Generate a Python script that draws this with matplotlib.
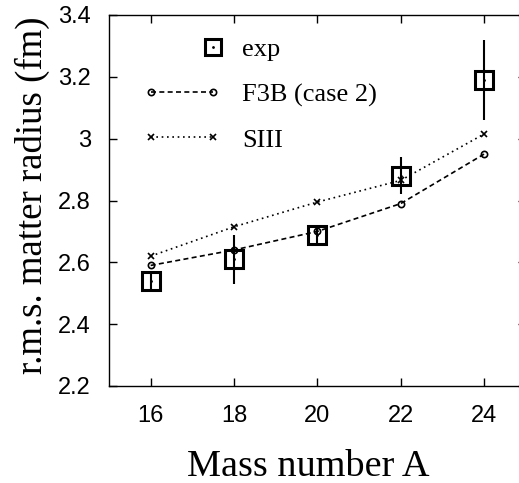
import matplotlib
matplotlib.use("Agg")
import matplotlib.pyplot as plt
from matplotlib.lines import Line2D
from matplotlib.legend_handler import HandlerLine2D

A = [16, 18, 20, 22, 24]
exp_r = [2.54, 2.61, 2.69, 2.88, 3.19]
exp_err = [0.03, 0.08, 0.03, 0.06, 0.13]
f3b = [2.59, 2.64, 2.70, 2.79, 2.95]
siii = [2.62, 2.715, 2.795, 2.865, 3.015]
xticks = [16, 18, 20, 22, 24]
yticks = [2.2, 2.4, 2.6, 2.8, 3.0, 3.2, 3.4]
ytick_labels = ["2.2", "2.4", "2.6", "2.8", "3", "3.2", "3.4"]


class HandlerRightMarker(HandlerLine2D):
    def create_artists(self, legend, orig_handle, xdescent, ydescent,
                       width, height, fontsize, trans):
        x = -xdescent + width - 3
        y = (height - ydescent) / 2
        line = Line2D([x], [y], linestyle='none')
        self.update_prop(line, orig_handle, legend)
        line.set_linestyle('none')
        line.set_transform(trans)
        dot = Line2D([x], [y], linestyle='none', marker='.', ms=2, color='black')
        dot.set_transform(trans)
        return [line, dot]


W, H = 519, 483
fig = plt.figure(figsize=(W/100, H/100), dpi=100)
left, right, top, bottom = 109, 109 + 10*41.67, 15, 386
ax = fig.add_axes([left/W, 1-bottom/H, (right-left)/W, (bottom-top)/H])

dash_f3b = (0, (3, 2))
dot_siii = (0, (1, 2.2))
ax.plot(A, siii, linestyle=dot_siii, color='black', lw=1.2, marker='x', ms=4, mew=1.2)
ax.plot(A, f3b, linestyle=dash_f3b, color='black', lw=1.2, marker='o', ms=4.5, mfc='none', mew=1.2)
ax.errorbar(A, exp_r, yerr=exp_err, fmt='none', ecolor='black', elinewidth=1.5, capsize=0)
ax.plot(A, exp_r, linestyle='none', marker='s', ms=13.5, mfc='none', mec='black', mew=2.2)
ax.plot(A, exp_r, linestyle='none', marker='.', ms=2, color='black')

ax.set_xlim(15, 25)
ax.set_ylim(2.2, 3.4)
ax.set_xticks(xticks)
ax.set_yticks(yticks)
ax.set_yticklabels(ytick_labels)
ax.tick_params(direction='in', top=True, right=True, length=6, labelsize=17, width=1)
ax.tick_params(axis='x', pad=14)
ax.tick_params(axis='y', pad=13)
for s in ax.spines.values():
    s.set_linewidth(1.0)
for lab in ax.get_xticklabels() + ax.get_yticklabels():
    lab.set_fontfamily('Liberation Sans')
ax.set_xlabel("Mass number A", fontsize=27.5, fontfamily='Liberation Serif')
ax.xaxis.set_label_coords(308/W, 1 - 476/H, transform=fig.transFigure)
ax.xaxis.label.set_va('baseline')
ax.set_ylabel("r.m.s. matter radius (fm)", fontsize=26.5, fontfamily='Liberation Serif')
ax.yaxis.set_label_coords(42/W, 1 - 195/H, transform=fig.transFigure)
ax.yaxis.label.set_va('baseline')

h_exp = Line2D([], [], linestyle='none', marker='s', ms=12, mfc='none', mec='black', mew=2.2)
h_f3b = Line2D([], [], linestyle=dash_f3b, color='black', lw=1.2, marker='o', ms=4.5, mfc='none', mew=1.2)
h_siii = Line2D([], [], linestyle=dot_siii, color='black', lw=1.2, marker='x', ms=4, mew=1.2)
leg = fig.legend([h_exp, h_f3b, h_siii], ["exp", "F3B (case 2)", "SIII"], loc='upper left',
                 bbox_to_anchor=(147/W, 1-38/H), bbox_transform=fig.transFigure,
                 frameon=False, borderpad=0, borderaxespad=0, numpoints=2,
                 handler_map={h_exp: HandlerRightMarker(),
                              h_f3b: HandlerLine2D(marker_pad=0.15),
                              h_siii: HandlerLine2D(marker_pad=0.15)},
                 prop={'family': 'Liberation Serif', 'size': 19}, handlelength=2.65,
                 labelspacing=0.81, handletextpad=0.95)
fig.savefig("out.png", dpi=100)
